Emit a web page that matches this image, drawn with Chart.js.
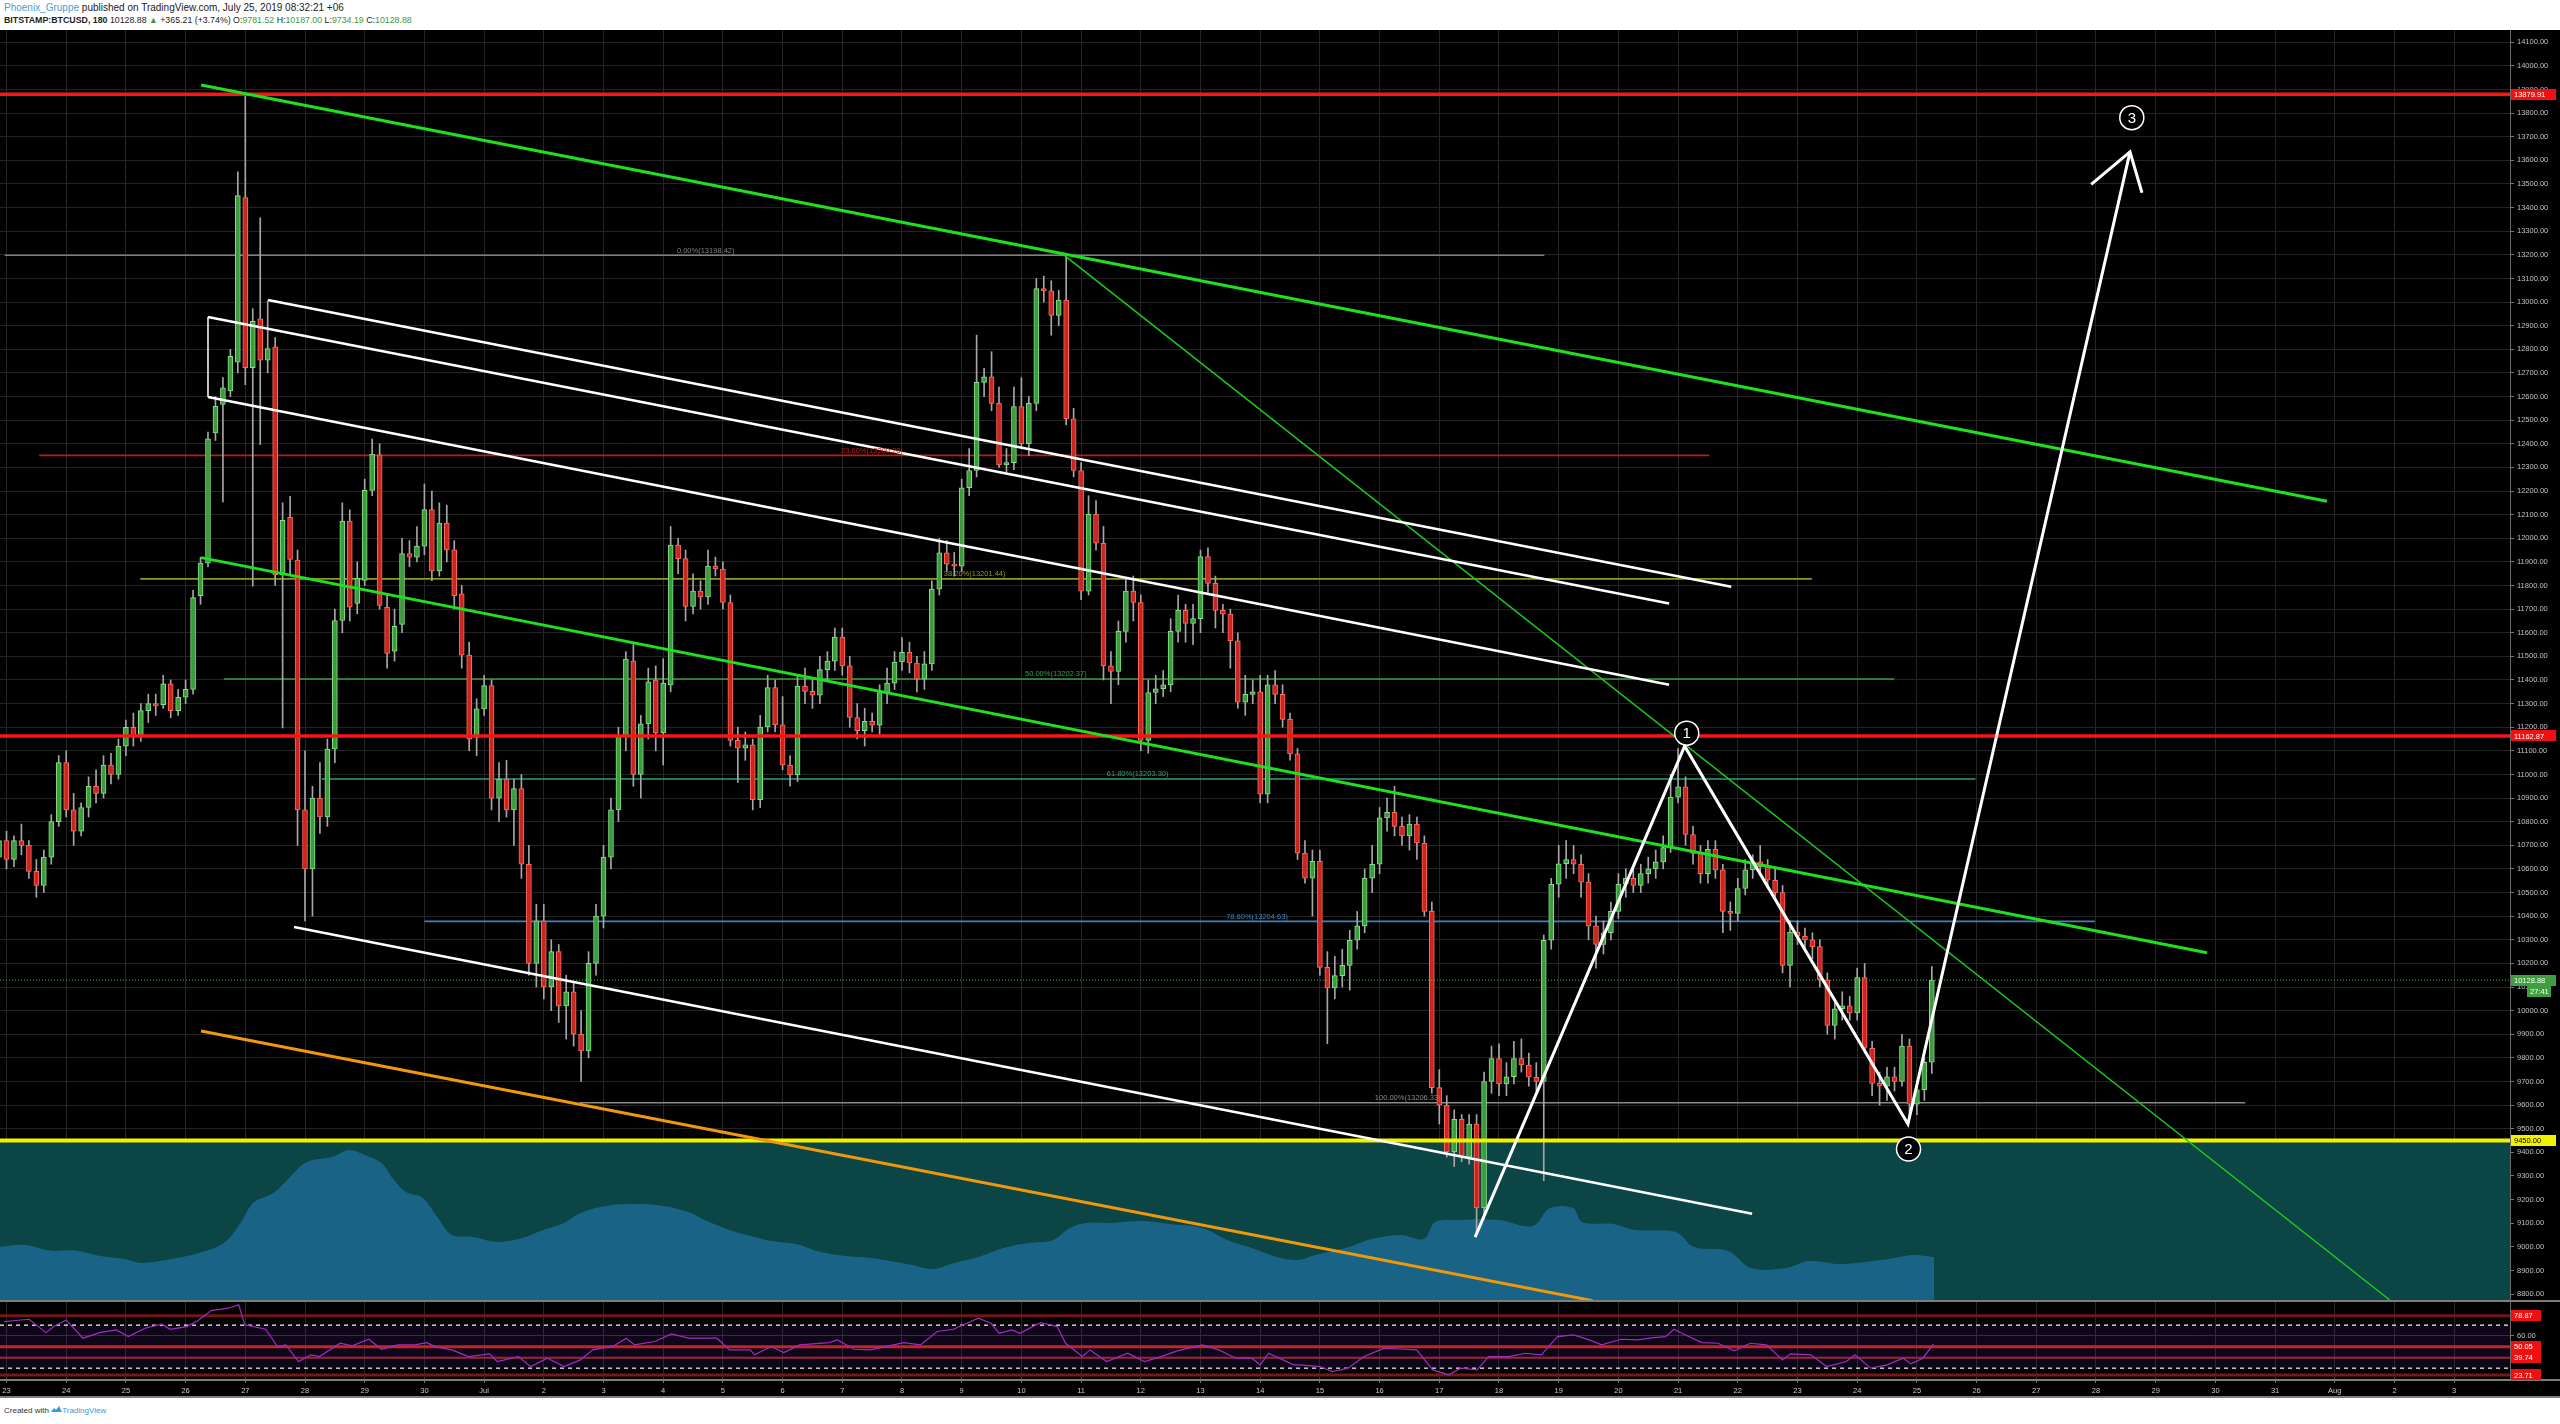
<!DOCTYPE html>
<html>
<head>
<meta charset="utf-8">
<title>BITSTAMP:BTCUSD, 180</title>
<script src="https://cdn.jsdelivr.net/npm/chart.js@4.4.1/dist/chart.umd.min.js"></script>
<style>
  html, body { margin: 0; padding: 0; background: #fff; }
  body { width: 2560px; height: 1424px; position: relative; overflow: hidden; font-family: "Liberation Sans", Arial, sans-serif; }
  #head { position: absolute; left: 4px; top: 1px; color: #222; white-space: nowrap; }
  #head .l1 { font-size: 10px; line-height: 13px; }
  #head .l2 { font-size: 8.8px; line-height: 13px; }
  #head .user { color: #4a9fd8; }
  #head .sym { font-weight: bold; }
  #head .up { color: #3d9a3d; }
  #panel { position: absolute; left: 0; top: 30px; width: 2560px; height: 1368px; background: #000; }
  #foot { position: absolute; left: 4px; top: 1406px; font-size: 8px; color: #333; white-space: nowrap; }
  #foot .tv { color: #2f9ae0; }
</style>
</head>
<body>
<div id="head">
  <div class="l1"><span class="user">Phoenix_Gruppe</span> published on TradingView.com, July 25, 2019 08:32:21 +06</div>
  <div class="l2"><span class="sym">BITSTAMP:BTCUSD, 180</span> 10128.88 <span class="up">&#9650;</span> +365.21 (+3.74%) O:<span class="up">9781.52</span> H:<span class="up">10187.00</span> L:<span class="up">9734.19</span> C:<span class="up">10128.88</span></div>
</div>
<div id="panel"><canvas id="chart" width="2560" height="1368"></canvas></div>
<div id="foot">Created with <svg width="11" height="7" viewBox="0 0 11 7"><path d="M0 6 L3 2 L5 4 L8 0 L11 6 Z" fill="#2f9ae0"/></svg><span class="tv">TradingView</span></div>
<script>
// ---- time axis: one label per day, day 0 = 23 Jun 2019 (+06)
const dayTickLabels = ['23','24','25','26','27','28','29','30','Jul','2','3','4','5','6','7','8','9','10','11','12','13','14','15','16','17','18','19','20','21','22','23','24','25','26','27','28','29','30','31','Aug','2','3'];

// ---- 3h candles [open, high, low, close], one array per day
const jun22 = [[10650,10780,10600,10720]];
const jun23 = [[10720,10760,10600,10640],[10640,10740,10610,10720],[10720,10790,10660,10700],[10700,10720,10560,10590],[10590,10640,10480,10530],[10530,10680,10500,10650],[10650,10830,10620,10800],[10800,11080,10780,11050]];
const jun24 = [[11050,11100,10820,10850],[10850,10920,10700,10760],[10760,10880,10740,10860],[10860,10990,10820,10950],[10950,11020,10880,10920],[10920,11080,10900,11040],[11040,11090,10960,11000],[11000,11150,10980,11120]];
const jun25 = [[11120,11230,11080,11200],[11200,11260,11120,11160],[11160,11300,11140,11270],[11270,11340,11220,11300],[11300,11340,11250,11290],[11295,11420,11280,11384],[11384,11400,11240,11270],[11270,11360,11250,11327]];
const jun26 = [[11327,11400,11300,11360],[11360,11780,11340,11749],[11757,11920,11720,11895],[11895,12450,11880,12421],[12446,12600,12414,12559],[12567,12680,12154,12637],[12624,12800,12600,12770],[12746,13552,12700,13451]];
const jun27 = [[13443,13880,12650,12722],[12722,12973,11797,12919],[12929,13357,12397,12754],[12754,13005,12700,12803],[12811,12850,11800,11846],[11846,12150,11197,12076],[12089,12178,11850,11911],[11908,11950,10700,10850]];
const jun28 = [[10850,11100,10380,10600],[10600,10950,10400,10900],[10900,11050,10750,10820],[10820,11150,10780,11108],[11108,11700,11050,11652],[11652,12150,11600,12073],[12073,12120,11650,11708],[11724,11900,11680,11830]];
const jun29 = [[11822,12250,11800,12203],[12203,12420,12180,12357],[12353,12400,11700,11716],[11708,11760,11450,11513],[11522,11700,11480,11627],[11635,12000,11600,11935],[11935,11990,11880,11920],[11920,12050,11900,11967]];
const jun30 = [[11967,12230,11930,12121],[12121,12200,11820,11862],[11862,12150,11840,12064],[12064,12140,11900,11951],[11951,11990,11700,11757],[11765,11800,11450,11505],[11505,11560,11100,11149],[11157,11320,11080,11278]];
const jul01 = [[11278,11420,11250,11376],[11376,11400,10850,10900],[10900,11050,10800,10980],[10980,11060,10820,10850],[10850,10980,10700,10940],[10940,11000,10560,10620],[10620,10700,10150,10200],[10200,10450,10100,10380]];
const jul02 = [[10380,10450,10050,10100],[10100,10300,10000,10250],[10250,10280,9950,10020],[10020,10150,9880,10080],[10080,10120,9850,9900],[9900,10000,9700,9830],[9830,10250,9800,10200],[10200,10450,10150,10400]];
const jul03 = [[10400,10700,10350,10650],[10650,10900,10600,10850],[10850,11200,10800,11165],[11165,11520,11100,11489],[11480,11550,10950,11000],[11000,11250,10900,11214],[11214,11450,11150,11392],[11400,11460,11100,11176]];
const jul04 = [[11176,11490,11040,11387],[11379,12050,11350,11971],[11971,12000,11850,11914],[11914,11950,11650,11711],[11711,11850,11680,11776],[11776,11820,11700,11752],[11752,11950,11720,11882],[11882,11920,11840,11870]];
const jul05 = [[11870,11900,11700,11728],[11728,11760,11120,11144],[11144,11200,10966,11111],[11111,11180,11060,11125],[11125,11150,10850,10893],[10893,11250,10860,11201],[11201,11420,11180,11368],[11368,11400,11180,11210]];
const jul06 = [[11210,11330,11020,11040],[11040,11080,10950,10998],[10998,11420,10970,11374],[11374,11450,11300,11352],[11352,11400,11280,11336],[11336,11500,11300,11444],[11444,11520,11400,11480],[11480,11620,11440,11582]];
const jul07 = [[11582,11620,11420,11460],[11460,11500,11200,11241],[11241,11300,11150,11185],[11185,11280,11120,11225],[11225,11260,11180,11209],[11209,11380,11170,11347],[11347,11450,11300,11387],[11387,11520,11360,11476]];
const jul08 = [[11476,11580,11440,11517],[11517,11560,11430,11472],[11472,11500,11350,11403],[11403,11520,11360,11468],[11468,11820,11440,11785],[11785,12000,11760,11938],[11938,11990,11860,11890],[11890,11940,11840,11882]];
const jul09 = [[11882,12250,11860,12214],[12214,12380,12180,12287],[12287,12860,12260,12660],[12660,12720,12600,12684],[12684,12790,12540,12571],[12571,12640,12300,12311],[12311,12380,12280,12320],[12320,12640,12290,12558]];
const jul10 = [[12558,12680,12380,12401],[12401,12600,12350,12571],[12571,13100,12540,13057],[13057,13110,13000,13048],[13048,13090,12860,12944],[12944,13050,12900,13009],[13009,13200,12480,12506],[12506,12550,12260,12287]];
const jul11 = [[12287,12320,11740,11776],[11776,12180,11760,12101],[12101,12160,11950,11979],[11979,12050,11400,11460],[11460,11520,11300,11436],[11436,11650,11380,11606],[11606,11830,11560,11776],[11776,11840,11650,11728]];
const jul12 = [[11728,11760,11100,11144],[11144,11400,11090,11347],[11347,11420,11300,11363],[11363,11440,11330,11379],[11379,11660,11350,11606],[11606,11760,11560,11695],[11695,11720,11560,11639],[11639,11720,11550,11660]];
const jul13 = [[11660,11950,11600,11922],[11922,11960,11760,11809],[11809,11840,11620,11695],[11695,11720,11600,11679],[11679,11700,11450,11566],[11566,11600,11280,11306],[11306,11420,11250,11339],[11339,11400,11300,11350]];
const jul14 = [[11350,11420,10880,10917],[10917,11420,10880,11379],[11379,11440,11300,11339],[11339,11380,11200,11233],[11233,11260,11060,11087],[11087,11110,10640,10667],[10667,10720,10540,10561],[10561,10680,10400,10632]];
const jul15 = [[10632,10680,10150,10183],[10183,10250,9860,10096],[10096,10230,10050,10148],[10148,10260,10100,10192],[10192,10340,10087,10298],[10298,10420,10260,10359],[10359,10600,10330,10561],[10561,10700,10500,10620]];
const jul16 = [[10620,10860,10580,10816],[10816,10900,10760,10840],[10840,10950,10740,10780],[10780,10820,10700,10740],[10740,10830,10680,10790],[10790,10820,10640,10710],[10710,10740,10400,10420],[10420,10460,9650,9674]];
const jul17 = [[9674,9750,9520,9600],[9600,9640,9380,9402],[9402,9580,9340,9540],[9540,9560,9360,9380],[9380,9560,9350,9520],[9520,9560,9060,9165],[9165,9740,9120,9700],[9700,9850,9650,9797]];
const jul18 = [[9797,9860,9640,9690],[9690,9780,9640,9720],[9720,9870,9690,9797],[9797,9880,9740,9770],[9770,9820,9680,9718],[9718,9780,9660,9700],[9700,10320,9280,10298],[10298,10560,10260,10535]];
const jul19 = [[10535,10700,10480,10622],[10622,10720,10560,10640],[10640,10700,10580,10620],[10620,10660,10480,10544],[10544,10580,10300,10359],[10359,10400,10180,10280],[10280,10380,10240,10330],[10330,10460,10300,10420]];
const jul20 = [[10420,10580,10390,10535],[10535,10600,10480,10560],[10560,10600,10500,10530],[10530,10620,10500,10580],[10580,10650,10540,10600],[10600,10680,10560,10630],[10630,10740,10600,10690],[10690,11000,10670,10904]];
const jul21 = [[10904,11110,10880,10948],[10948,10990,10700,10746],[10746,10780,10620,10666],[10666,10700,10540,10580],[10580,10720,10540,10683],[10683,10720,10560,10596],[10596,10620,10330,10420],[10420,10460,10340,10412]];
const jul22 = [[10412,10560,10380,10517],[10517,10640,10490,10596],[10596,10660,10560,10630],[10630,10700,10580,10610],[10610,10640,10520,10552],[10552,10600,10480,10500],[10500,10530,10160,10192],[10192,10380,10100,10333]];
const jul23 = [[10333,10380,10280,10315],[10315,10350,10260,10300],[10300,10330,10220,10271],[10271,10300,10100,10131],[10131,10160,9900,9937],[9937,10050,9880,10008],[10008,10080,9960,10020],[10020,10060,9960,9990]];
const jul24 = [[9990,10180,9960,10140],[10140,10200,9820,9841],[9841,9870,9640,9692],[9692,9740,9600,9680],[9680,9760,9620,9720],[9720,9760,9660,9700],[9700,9900,9680,9850],[9850,9880,9540,9604]];
const jul25 = [[9604,9700,9560,9665],[9665,9800,9620,9781.52],[9781.52,10187,9734.19,10128.88]];
const firstCandleDay = -0.125;
const candleStep = 0.125;

// ---- smoothed volume area in the price pane [day, price level]
const volumeArea = [[-0.11,9000],[0.31,9008],[0.73,8984],[1.14,8984],[1.56,8961],[1.98,8949],[2.25,8932],[2.67,8944],[3.22,8974],[3.64,9016],[3.92,9101],[4.13,9186],[4.47,9228],[4.75,9296],[5.03,9359],[5.45,9380],[5.73,9410],[6.0,9389],[6.28,9355],[6.49,9283],[6.69,9232],[6.97,9207],[7.25,9114],[7.46,9050],[7.81,9042],[8.23,9021],[8.64,9037],[8.99,9071],[9.34,9101],[9.61,9143],[10.04,9173],[10.59,9181],[11.0,9173],[11.42,9148],[11.7,9114],[12.11,9071],[12.53,9042],[12.81,9025],[13.22,9012],[13.64,8978],[14.06,8961],[14.47,8953],[14.9,8936],[15.17,8923],[15.52,8906],[15.86,8931],[16.28,8957],[16.7,8995],[17.11,9016],[17.53,9029],[17.81,9080],[18.09,9101],[18.5,9101],[18.99,9109],[19.48,9097],[20.03,9080],[20.45,9029],[20.86,8995],[21.28,8957],[21.63,8944],[21.92,8965],[22.49,8999],[22.87,9033],[23.36,9050],[23.74,9033],[23.93,9105],[24.31,9114],[25.0,9114],[25.57,9088],[25.85,9164],[26.24,9164],[26.39,9105],[26.91,9097],[27.29,9071],[27.96,9063],[28.27,8999],[28.84,8982],[29.22,8910],[29.81,8910],[30.18,8940],[30.76,8927],[31.53,8948],[31.92,8965],[32.29,8957]];

// ---- RSI [day, value]
const rsiPoints = [[-0.04,73.4],[0.38,75.5],[0.66,63.1],[0.79,68.7],[1.0,74.9],[1.28,57.9],[1.56,63.1],[1.84,65.6],[2.04,59.4],[2.32,67.2],[2.6,70.9],[2.74,66.2],[3.02,68.7],[3.22,74.9],[3.43,83.6],[3.71,85.8],[3.89,88.9],[3.99,70.3],[4.34,66.2],[4.54,50.1],[4.68,51.7],[4.89,36.2],[5.1,42.4],[5.24,40.8],[5.59,53.2],[5.79,50.7],[6.07,56.9],[6.28,47.6],[6.56,51.7],[6.84,51.7],[7.04,53.8],[7.18,50.1],[7.46,47.0],[7.74,40.8],[8.09,43.3],[8.22,36.2],[8.57,40.8],[8.78,31.5],[9.06,39.3],[9.34,31.5],[9.61,37.7],[9.82,47.0],[10.17,50.7],[10.38,57.9],[10.52,51.7],[10.86,54.8],[11.14,61.9],[11.42,57.9],[11.9,57.9],[12.11,47.0],[12.46,47.0],[12.53,42.4],[12.81,50.1],[13.02,44.5],[13.29,51.7],[13.78,53.8],[13.92,56.3],[14.2,47.6],[14.47,47.0],[15.03,53.8],[15.31,51.7],[15.59,64.1],[15.86,66.2],[16.28,76.5],[16.49,71.8],[16.63,62.5],[16.84,65.6],[16.97,62.5],[17.32,72.4],[17.6,68.7],[17.74,53.2],[18.02,40.8],[18.15,47.0],[18.43,36.2],[18.78,43.9],[19.06,36.2],[19.34,40.8],[19.61,46.1],[20.03,51.7],[20.31,47.0],[20.59,39.3],[20.86,39.3],[21.0,33.1],[21.14,43.9],[21.56,33.1],[21.67,33.1],[22.0,31.5],[22.21,26.9],[22.47,30.0],[22.74,40.8],[23.08,48.6],[23.42,47.6],[23.62,47.0],[23.89,28.4],[24.16,23.8],[24.36,30.0],[24.63,28.4],[24.83,40.8],[25.17,40.8],[25.44,43.9],[25.71,42.4],[25.98,59.4],[26.25,61.0],[26.51,56.3],[26.72,51.7],[27.05,56.9],[27.32,56.3],[27.59,58.5],[27.79,59.4],[27.93,66.2],[28.06,62.5],[28.4,53.8],[28.67,53.2],[28.94,46.1],[29.21,53.2],[29.48,51.7],[29.75,37.7],[29.88,43.3],[30.22,42.4],[30.49,31.5],[30.82,36.2],[30.96,42.4],[31.23,30.0],[31.5,33.1],[31.77,39.3],[31.9,34.0],[32.1,39.3],[32.28,52.6]];
const rsiLevels = [78.87, 50.05, 39.74, 23.71];
const rsiBand = [70, 30];

// ---- horizontal levels
const levelPrices = [13879.91, 11162.87];
const supportPrice = 9450.00;
const lastPrice = 10128.88;
const countdown = '27:41';

// ---- fibonacci retracement
const fibRatios = ['0.00%', '23.60%', '38.20%', '50.00%', '61.80%', '78.60%', '100.00%'];
const fibPrices = [13198.42, 12351, 11828, 11404, 10981, 10378, 9610];
const fibShown = ['13198.42', '13200.28', '13201.44', '13202.37', '13203.30', '13204.63', '13206.33'];
const fibFrom = [-0.03, 0.545, 2.24, 3.64, 5.28, 7.0, 9.6];
const fibTo = [25.76, 28.52, 30.24, 31.62, 32.98, 34.98, 37.5];
const fibLabelAt = [11.23, 13.98, 15.7, 17.06, 18.43, 20.43, 22.92];

// ---- drawn trend lines [day, price]
const upperGreen = [[3.258, 13919], [38.87, 12157]];
const lowerGreen = [[3.258, 11918], [36.86, 10245]];
const thinGreen = [[17.72, 13198], [39.92, 8775]];
const whiteTop = [[4.38, 13009], [28.89, 11795]];
const whiteMid = [[3.375, 12937], [27.85, 11724]];
const whiteLow = [[3.375, 12598], [27.85, 11380]];
const whiteEdge = [[3.375, 12937], [3.375, 12598]];
const whiteBottom = [[4.816, 10354], [29.24, 9140]];
const orangeLine = [[3.258, 9914], [26.57, 8772]];
const wavePath = [[24.6, 9041], [28.11, 11120], [31.85, 9520], [35.57, 13636]];
const arrowHead = [[34.92, 13498], [35.57, 13636], [35.77, 13463]];
const waveMarks = [[28.145, 11175, '1'], [31.86, 9414, '2'], [35.6, 13781, '3']];

// ---- view
const xMin = -0.109, xMax = 41.935;
const priceMin = 8770.7, priceMax = 14152;
const rsiMin = 19, rsiMax = 92.5;

const FONT = '"Liberation Sans", Arial, sans-serif';
const GREEN = '#3d9a3d', GREEN_EDGE = '#86e086', RED = '#c8261e', RED_EDGE = '#ff6a5e', WICK = '#a6a6a6';
const fibColors = ['#808080', '#b3201c', '#8f9a22', '#3e9e3e', '#2a9f7c', '#3f83b9', '#8a8a8a'];

const candles = [].concat(jun22, jun23, jun24, jun25, jun26, jun27, jun28, jun29, jun30,
  jul01, jul02, jul03, jul04, jul05, jul06, jul07, jul08, jul09, jul10, jul11, jul12,
  jul13, jul14, jul15, jul16, jul17, jul18, jul19, jul20, jul21, jul22, jul23, jul24, jul25);
const candleDay = i => firstCandleDay + i * candleStep;
const isUp = candles.map(c => c[3] >= c[0]);

function pts(arr) { return arr.map(p => ({ x: p[0], y: p[1] })); }
function hline(v) { return [{ x: xMin, y: v }, { x: xMax, y: v }]; }
function line(data, color, width, order, extra) {
  return Object.assign({ type: 'line', data, borderColor: color, borderWidth: width, pointRadius: 0,
    fill: false, tension: 0, order, yAxisID: 'y' }, extra || {});
}

const datasets = [
  line(hline(supportPrice), 'rgba(0,0,0,0)', 0, 100, { fill: 'start', backgroundColor: '#0b4545' }),
  line(pts(volumeArea), 'rgba(0,0,0,0)', 0, 95, { fill: 'start', backgroundColor: '#196486', tension: 0.35 }),
  // rsi band + levels
  line(hline(rsiBand[0]), '#d0d0d0', 1.5, 95, { yAxisID: 'rsi', borderDash: [4, 4], fill: '+1', backgroundColor: 'rgba(110,40,170,0.15)' }),
  line(hline(rsiBand[1]), '#d0d0d0', 1.5, 95, { yAxisID: 'rsi', borderDash: [4, 4] }),
  line(hline(rsiLevels[0]), '#701818', 3, 40, { yAxisID: 'rsi' }),
  line(hline(rsiLevels[1]), '#c42424', 3, 40, { yAxisID: 'rsi' }),
  line(hline(rsiLevels[2]), '#9a2838', 2, 40, { yAxisID: 'rsi' }),
  line(hline(rsiLevels[3]), '#761818', 3, 40, { yAxisID: 'rsi' }),
  line(pts(rsiPoints), '#9c2fbf', 1.2, 30, { yAxisID: 'rsi' })
];
fibPrices.forEach((p, i) => {
  datasets.push(line([{ x: fibFrom[i], y: p }, { x: fibTo[i], y: p }], fibColors[i], 1.6, 80));
});
datasets.push(
  { type: 'bar', yAxisID: 'y', order: 61, grouped: false, barThickness: 1, minBarLength: 1,
    data: candles.map((c, i) => ({ x: candleDay(i), y: [c[2], c[1]] })), backgroundColor: WICK },
  { type: 'bar', yAxisID: 'y', order: 60, grouped: false, barThickness: 5, minBarLength: 1,
    borderWidth: 1, borderSkipped: false,
    data: candles.map((c, i) => ({ x: candleDay(i), y: [c[0], c[3]] })),
    backgroundColor: isUp.map(u => u ? GREEN : RED), borderColor: isUp.map(u => u ? GREEN_EDGE : RED_EDGE) }
);
datasets.push(
  line(hline(lastPrice), '#4caf50', 1, 25, { borderDash: [1, 2] }),
  line(hline(levelPrices[0]), '#ff1414', 3.5, 20),
  line(hline(levelPrices[1]), '#ff1414', 3.5, 20),
  line(hline(supportPrice), '#f2f200', 4, 20),
  line(pts(upperGreen), '#1fe01f', 3, 12),
  line(pts(lowerGreen), '#1fe01f', 3, 12),
  line(pts(thinGreen), '#1ccc1c', 1.5, 12),
  line(pts(orangeLine), '#f0980c', 3, 12),
  line(pts(whiteTop), '#ffffff', 2.5, 10),
  line(pts(whiteMid), '#ffffff', 2.5, 10),
  line(pts(whiteLow), '#ffffff', 2.5, 10),
  line(pts(whiteEdge), '#ffffff', 1.5, 10),
  line(pts(whiteBottom), '#ffffff', 2.5, 10),
  line(pts(wavePath), '#ffffff', 3, 5),
  line(pts(arrowHead), '#ffffff', 3, 5)
);

function tag(ctx, yPix, text, bg, fg, x0, w) {
  ctx.fillStyle = bg;
  ctx.fillRect(x0, Math.round(yPix - 5.5), w, 11);
  ctx.fillStyle = fg;
  ctx.fillText(text, x0 + 3, yPix + 0.5);
}

// the axes must not pad the plot area: the pane edges sit on the canvas edges
function noPad(s) { s.paddingLeft = 0; s.paddingRight = 0; s.paddingTop = 0; s.paddingBottom = 0; }

const overlay = {
  id: 'overlay',
  afterDatasetsDraw(chart) {
    const { ctx, scales: { x, y } } = chart;
    ctx.save();
    ctx.font = '7.5px ' + FONT;
    ctx.textAlign = 'left';
    ctx.textBaseline = 'bottom';
    fibRatios.forEach((r, i) => {
      ctx.fillStyle = fibColors[i];
      ctx.fillText(r + '(' + fibShown[i] + ')', x.getPixelForValue(fibLabelAt[i]), y.getPixelForValue(fibPrices[i]) - 1);
    });
    ctx.textAlign = 'center';
    ctx.textBaseline = 'middle';
    ctx.font = '15px ' + FONT;
    ctx.lineWidth = 1.5;
    waveMarks.forEach(m => {
      const px = x.getPixelForValue(m[0]), py = y.getPixelForValue(m[1]);
      ctx.beginPath();
      ctx.arc(px, py, 12, 0, Math.PI * 2);
      ctx.fillStyle = '#000';
      ctx.fill();
      ctx.strokeStyle = '#ffffff';
      ctx.stroke();
      ctx.fillStyle = '#ffffff';
      ctx.fillText(m[2], px, py + 1);
    });
    ctx.restore();
  },
  afterDraw(chart) {
    const { ctx, scales: { x, y, rsi } } = chart;
    ctx.save();
    ctx.strokeStyle = '#7d7d7d';
    ctx.lineWidth = 2;
    [y.bottom, x.top].forEach(py => {
      ctx.beginPath(); ctx.moveTo(0, py); ctx.lineTo(chart.width, py); ctx.stroke();
    });
    ctx.beginPath(); ctx.moveTo(0, chart.height - 1); ctx.lineTo(chart.width, chart.height - 1); ctx.stroke();
    ctx.font = '7.5px ' + FONT;
    ctx.textAlign = 'left';
    ctx.textBaseline = 'middle';
    const x0 = y.left + 1;
    levelPrices.forEach(v => tag(ctx, y.getPixelForValue(v), v.toFixed(2), '#f01010', '#ffffff', x0, 45));
    tag(ctx, y.getPixelForValue(supportPrice), supportPrice.toFixed(2), '#f2f200', '#000000', x0, 45);
    const lp = y.getPixelForValue(lastPrice);
    tag(ctx, lp, lastPrice.toFixed(2), '#3f9f3f', '#ffffff', x0, 45);
    tag(ctx, lp + 11, countdown, '#3f9f3f', '#ffffff', x0 + 16, 24);
    rsiLevels.forEach(v => tag(ctx, rsi.getPixelForValue(v), v.toFixed(2), '#f01010', '#ffffff', x0, 30));
    ctx.restore();
  }
};

const axisFont = { size: 7.5, family: FONT };
new Chart(document.getElementById('chart'), {
  type: 'line',
  data: { datasets },
  options: {
    responsive: false,
    animation: false,
    devicePixelRatio: 1,
    events: [],
    layout: { padding: 0 },
    plugins: { legend: { display: false }, tooltip: { enabled: false } },
    scales: {
      x: {
        type: 'linear', min: xMin, max: xMax, offset: false,
        afterBuildTicks: s => { s.ticks = dayTickLabels.map((_, i) => ({ value: i })); },
        afterFit: s => { s.height = 18; noPad(s); },
        ticks: { callback: v => dayTickLabels[v], color: '#c8c8c8', font: axisFont, maxRotation: 0, autoSkip: false, padding: 3 },
        grid: { color: '#262626', tickLength: 3, tickColor: '#777', offset: false },
        border: { display: false }
      },
      y: {
        type: 'linear', position: 'right', stack: 'panes', stackWeight: 1271,
        min: priceMin, max: priceMax,
        afterBuildTicks: s => { const t = []; for (let v = 8800; v <= 14100; v += 100) t.push({ value: v }); s.ticks = t; },
        afterFit: s => { s.width = 50; noPad(s); },
        ticks: { callback: v => v.toFixed(2), color: '#c0c0c0', font: axisFont, padding: 3, autoSkip: false },
        grid: { color: '#242424', tickLength: 4, tickColor: '#777' },
        border: { display: true, color: '#6a6a6a' }
      },
      rsi: {
        type: 'linear', position: 'right', stack: 'panes', stackWeight: 79,
        min: rsiMin, max: rsiMax,
        afterBuildTicks: s => { s.ticks = [{ value: 60 }]; },
        afterFit: s => { s.width = 50; noPad(s); },
        ticks: { callback: v => v.toFixed(2), color: '#c0c0c0', font: axisFont, padding: 3 },
        grid: { color: '#303030', tickLength: 4, tickColor: '#777' },
        border: { display: true, color: '#6a6a6a' }
      }
    }
  },
  plugins: [overlay]
});
</script>
</body>
</html>
